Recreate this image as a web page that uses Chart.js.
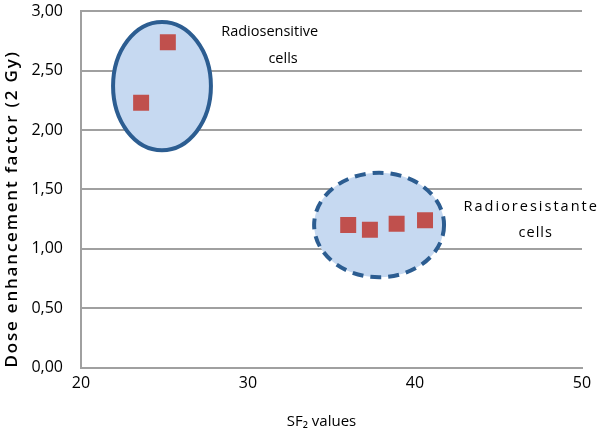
<!DOCTYPE html>
<html>
<head>
<meta charset="utf-8">
<script src="https://cdn.jsdelivr.net/npm/chart.js@4.4.1/dist/chart.umd.min.js"></script>
<style>
  html, body { margin: 0; padding: 0; background: #ffffff; }
  #wrap { width: 600px; height: 435px; position: relative; }
</style>
</head>
<body>
<div id="wrap"><canvas id="c" width="600" height="435"></canvas></div>
<script>
// ---- data ----
const sf2Values = [23.6, 25.2, 36.0, 37.3, 38.9, 40.6];
const doseEnhancement = [2.23, 2.74, 1.20, 1.16, 1.21, 1.24];
const xTicks = [20, 30, 40, 50];
const yTicks = [0, 0.5, 1.0, 1.5, 2.0, 2.5, 3.0];

// group ellipses (data units): centre x, centre y, half-width x, half-height y
const groupNames = ['Radiosensitive cells', 'Radioresistante cells'];
const ellipseCx = [24.85, 37.85];
const ellipseCy = [2.37, 1.20];
const ellipseRx = [2.93, 3.89];
const ellipseRy = [0.54, 0.44];
const ellipseDashed = [false, true];

// annotation text lines (anchored in data units)
const noteLines = ['Radiosensitive', 'cells', 'Radioresistante', 'cells'];
const noteX = [31.3, 32.1, 46.9, 47.2];
const noteY = [2.83, 2.60, 1.355, 1.13];
const noteSpacing = [0, 0, 2, 1];

const fontFam = "'Open Sans', 'DejaVu Sans', sans-serif";

const groupsPlugin = {
  id: 'groups',
  afterUpdate(chart) {
    // axis-title text tweaks: letter spacing on the y title, slight shift of the x title
    const ys = chart.scales.y, xs = chart.scales.x;
    if (ys && !ys._wrapped) {
      const orig = ys.drawTitle;
      ys.drawTitle = function () {
        const c = this.ctx; c.save(); c.letterSpacing = '1.8px';
        orig.apply(this, arguments);
        c.letterSpacing = '0px'; c.restore();
      };
      ys._wrapped = true;
    }
    if (xs && !xs._wrapped) {
      const origX = xs.drawTitle;
      xs.drawTitle = function () {
        const c = this.ctx; c.save(); c.translate(-10, 0);
        origX.apply(this, arguments);
        c.restore();
      };
      xs._wrapped = true;
    }
  },
  beforeDatasetsDraw(chart) {
    const {ctx, scales: {x, y}} = chart;
    ctx.save();
    for (let i = 0; i < ellipseCx.length; i++) {
      const cx = x.getPixelForValue(ellipseCx[i]);
      const cy = y.getPixelForValue(ellipseCy[i]);
      const rx = Math.abs(x.getPixelForValue(ellipseCx[i] + ellipseRx[i]) - cx);
      const ry = Math.abs(y.getPixelForValue(ellipseCy[i] + ellipseRy[i]) - cy);
      ctx.beginPath();
      ctx.ellipse(cx, cy, rx, ry, 0, 0, Math.PI * 2);
      ctx.fillStyle = '#c6d9f1';
      ctx.fill();
      ctx.lineWidth = 4;
      ctx.strokeStyle = '#2c5d91';
      ctx.setLineDash(ellipseDashed[i] ? [11, 7] : []);
      ctx.stroke();
    }
    ctx.setLineDash([]);
    ctx.fillStyle = '#000000';
    ctx.font = "14.5px " + fontFam;
    ctx.textAlign = 'center';
    ctx.textBaseline = 'middle';
    for (let i = 0; i < noteLines.length; i++) {
      ctx.letterSpacing = noteSpacing[i] + 'px';
      ctx.fillText(noteLines[i], x.getPixelForValue(noteX[i]) + noteSpacing[i] / 2, y.getPixelForValue(noteY[i]));
    }
    ctx.letterSpacing = '0px';
    ctx.restore();
  }
};

const fmt = v => Number(v).toFixed(2).replace('.', ',');

new Chart(document.getElementById('c'), {
  type: 'scatter',
  data: {
    datasets: [{
      label: 'DEF',
      data: sf2Values.map((v, i) => ({x: v, y: doseEnhancement[i]})),
      pointStyle: 'rect',
      pointRadius: 11.3,
      pointHoverRadius: 11.3,
      backgroundColor: '#c0504d',
      borderColor: '#c0504d',
      borderWidth: 0
    }]
  },
  options: {
    responsive: false,
    animation: false,
    devicePixelRatio: 1,
    layout: { padding: { top: 1, right: 18, left: 0, bottom: 0 } },
    plugins: { legend: { display: false }, tooltip: { enabled: false } },
    scales: {
      x: {
        type: 'linear',
        min: 20, max: 50,
        afterBuildTicks: s => { s.ticks = xTicks.map(v => ({value: v})); },
        afterFit: s => { s.height = 67.5; s.paddingLeft = 0; s.paddingRight = 0; },
        grid: { display: false, drawTicks: false },
        border: { display: true, color: '#a0a0a0', width: 2 },
        ticks: { color: '#000', font: { family: fontFam, size: 16 }, padding: 6, maxRotation: 0 },
        title: { display: true, text: 'SF\u2082 values', color: '#000', font: { family: fontFam, size: 15 }, padding: { top: 0, bottom: 4 } }
      },
      y: {
        type: 'linear',
        min: 0, max: 3,
        afterBuildTicks: s => { s.ticks = yTicks.map(v => ({value: v})); },
        afterFit: s => { s.width = 81; s.paddingTop = 0; s.paddingBottom = 0; },
        grid: { color: '#a0a0a0', lineWidth: 2, drawTicks: false },
        border: { display: true, color: '#a0a0a0', width: 2 },
        ticks: { color: '#000', font: { family: fontFam, size: 16 }, padding: 18, callback: v => fmt(v) },
        title: { display: true, text: 'Dose enhancement factor (2 Gy)', align: 'start', color: '#000', font: { family: fontFam, size: 17, weight: '600' }, padding: { top: 2 } }
      }
    }
  },
  plugins: [groupsPlugin]
});
</script>
</body>
</html>
